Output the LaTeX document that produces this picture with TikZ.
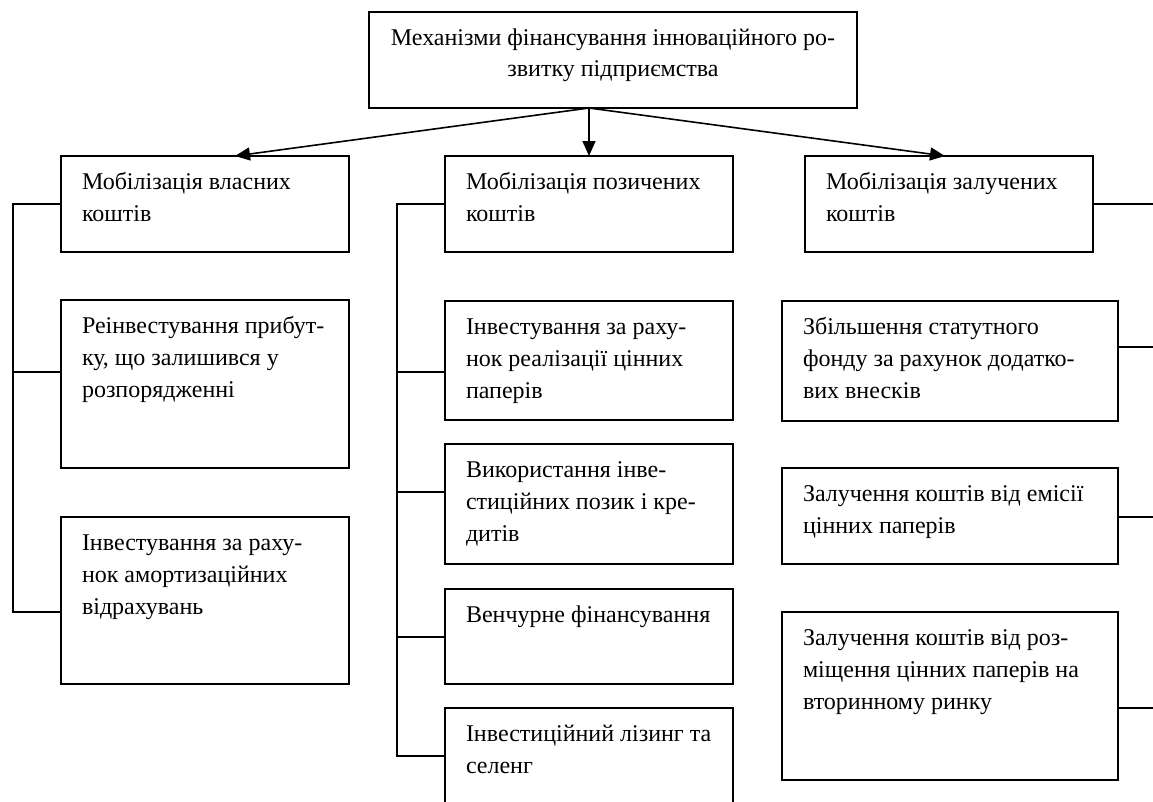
\documentclass[tikz,border=0pt]{standalone}
\usepackage{fontspec}
\setmainfont{Liberation Serif}
\usetikzlibrary{arrows.meta}
\newcommand\boxtext[3]{\begin{minipage}[t][#2][t]{#1}\fontsize{24pt}{32pt}\selectfont\parindent=0pt\leftskip=21pt\rule{0pt}{33pt}#3\par\end{minipage}}
\newcommand\boxtextc[3]{\begin{minipage}[t][#2][t]{#1}\fontsize{24pt}{31pt}\selectfont\centering\rule{0pt}{33pt}#3\par\end{minipage}}
\tikzset{
  bx/.style={draw, line width=1.3pt, inner sep=0pt, outer sep=0pt, anchor=north west},
  link/.style={line width=1.4pt},
  arr/.style={line width=1.6pt, -{Triangle[length=15pt,width=13pt]}}
}
\begin{document}
\begin{tikzpicture}[x=1pt,y=-1pt]
\clip (0,0) rectangle (1153,801);
\fill[white] (0,0) rectangle (1153,801);
% top
\node[bx] (T) at (369,12) {\boxtextc{488pt}{96pt}{Механізми фінансування інноваційного ро-\\звитку підприємства}};
\coordinate (ts) at (589,108);
% left column
\node[bx] (L1) at (61,156) {\boxtext{288pt}{96pt}{Мобілізація власних\\коштів}};
\node[bx] (L2) at (61,300) {\boxtext{288pt}{168pt}{Реінвестування прибут-\\ку, що залишився у\\розпорядженні}};
\node[bx] (L3) at (61,517) {\boxtext{288pt}{167pt}{Інвестування за раху-\\нок амортизаційних\\відрахувань}};
% middle column
\node[bx] (M1) at (445,156) {\boxtext{288pt}{96pt}{Мобілізація позичених\\коштів}};
\node[bx] (M2) at (445,301) {\boxtext{288pt}{119pt}{Інвестування за раху-\\нок реалізації цінних\\паперів}};
\node[bx] (M3) at (445,444) {\boxtext{288pt}{120pt}{Використання інве-\\стиційних позик і кре-\\дитів}};
\node[bx] (M4) at (445,589) {\boxtext{288pt}{95pt}{Венчурне фінансування}};
\node[bx] (M5) at (445,708) {\boxtext{288pt}{120pt}{Інвестиційний лізинг та\\селенг}};
% right column
\node[bx] (R1) at (805,156) {\boxtext{288pt}{96pt}{Мобілізація залучених\\коштів}};
\node[bx] (R2) at (782,301) {\boxtext{336pt}{120pt}{Збільшення статутного\\фонду за рахунок додатко-\\вих внесків}};
\node[bx] (R3) at (782,468) {\boxtext{336pt}{96pt}{Залучення коштів від емісії\\цінних паперів}};
\node[bx] (R4) at (782,612) {\boxtext{336pt}{168pt}{Залучення коштів від роз-\\міщення цінних паперів на\\вторинному ринку}};
% arrows
\draw[arr] (ts) -- ([xshift=30pt]L1.north);
\draw[arr] (ts) -- (ts |- M1.north);
\draw[arr] (ts) -- ([xshift=-4pt]R1.north);
% left bus
\coordinate (lb2) at (13,372);
\coordinate (lb3) at (13,612);
\draw[link] (L1.west) -| (lb3) -- (L3.west |- lb3);
\draw[link] (lb2) -- (L2.west |- lb2);
% middle bus
\coordinate (mb2) at (397,372);
\coordinate (mb3) at (397,492);
\coordinate (mb4) at (397,637);
\coordinate (mb5) at (397,756);
\draw[link] (M1.west) -| (mb5) -- (M5.west |- mb5);
\draw[link] (mb2) -- (M2.west |- mb2);
\draw[link] (mb3) -- (M3.west |- mb3);
\draw[link] (mb4) -- (M4.west |- mb4);
% right stubs
\coordinate (rs1) at (1160,204);
\coordinate (rs2) at (1160,347);
\coordinate (rs3) at (1160,517);
\coordinate (rs4) at (1160,708);
\draw[link] (R1.east) -- (rs1);
\draw[link] (R2.east |- rs2) -- (rs2);
\draw[link] (R3.east |- rs3) -- (rs3);
\draw[link] (R4.east |- rs4) -- (rs4);
\end{tikzpicture}
\end{document}
